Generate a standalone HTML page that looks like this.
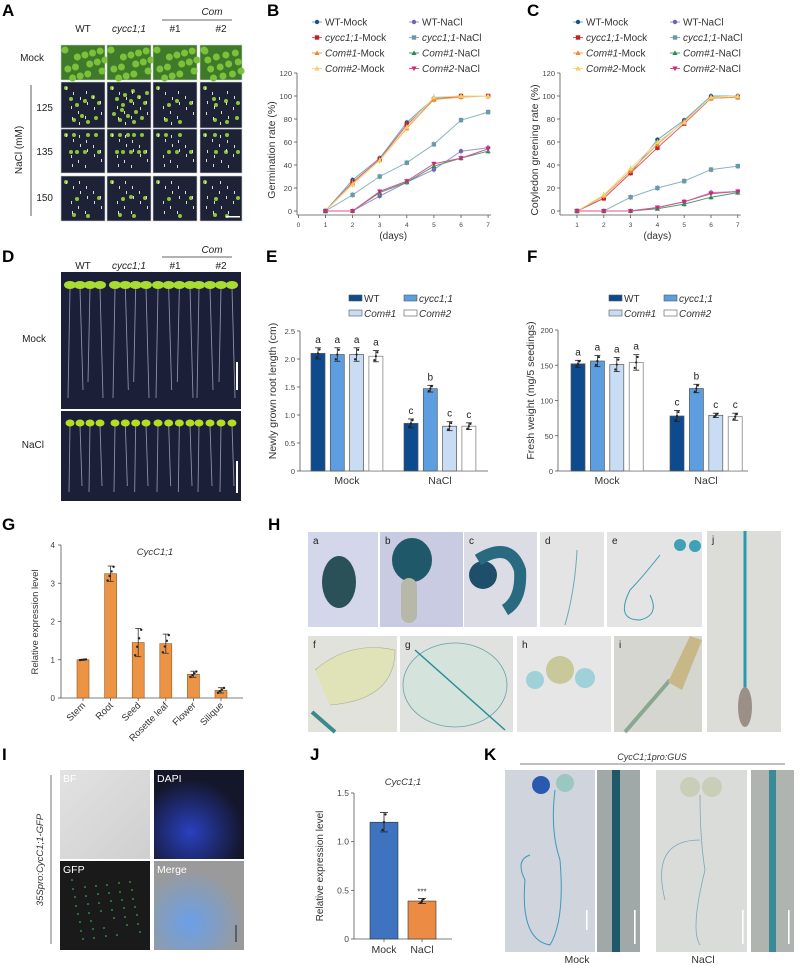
<!DOCTYPE html>
<html><head><meta charset="utf-8">
<style>
html,body{margin:0;padding:0;background:#fff;}
svg{display:block;font-family:"Liberation Sans",Arial,sans-serif;}
.pl{font-weight:bold;font-size:17px;}
.t{font-size:9px;fill:#333;}
.lab{font-size:10px;fill:#222;}
</style></head>
<body>
<svg id="fig" width="800" height="966" viewBox="0 0 800 966" xmlns="http://www.w3.org/2000/svg">
<defs>
<linearGradient id="gH1" x1="0" y1="0" x2="0" y2="1"><stop offset="0" stop-color="#dcdde8"/><stop offset="1" stop-color="#c9cbe0"/></linearGradient>
<linearGradient id="gGrey" x1="0" y1="0" x2="1" y2="1"><stop offset="0" stop-color="#e2e2e2"/><stop offset="1" stop-color="#cfcfcf"/></linearGradient>
<radialGradient id="gDapi" cx="0.4" cy="0.7" r="0.6"><stop offset="0" stop-color="#2a40c0"/><stop offset="1" stop-color="#14162a"/></radialGradient>
<radialGradient id="gMerge" cx="0.4" cy="0.7" r="0.6"><stop offset="0" stop-color="#6aa0e8"/><stop offset="1" stop-color="#9a9a9a"/></radialGradient>
</defs>

<!-- Panel labels -->
<text class="pl" x="2" y="16">A</text>
<text class="pl" x="267" y="16">B</text>
<text class="pl" x="527" y="16">C</text>
<text class="pl" x="2" y="262">D</text>
<text class="pl" x="266" y="262">E</text>
<text class="pl" x="527" y="262">F</text>
<text class="pl" x="2" y="530">G</text>
<text class="pl" x="268" y="530">H</text>
<text class="pl" x="2" y="760">I</text>
<text class="pl" x="310" y="760">J</text>
<text class="pl" x="484" y="760">K</text>

<!-- Panel A -->
<g id="panelA">
<text class="lab" x="212" y="15" text-anchor="middle" font-style="italic">Com</text>
<line x1="162" y1="20" x2="232" y2="20" stroke="#333" stroke-width="0.8"/>
<text class="lab" x="83" y="32" text-anchor="middle">WT</text>
<text class="lab" x="129" y="32" text-anchor="middle" font-style="italic">cycc1;1</text>
<text class="lab" x="175" y="32" text-anchor="middle">#1</text>
<text class="lab" x="221" y="32" text-anchor="middle">#2</text>
<text class="lab" x="44" y="61" text-anchor="end">Mock</text>
<text class="lab" x="53" y="111" text-anchor="end">125</text>
<text class="lab" x="53" y="155" text-anchor="end">135</text>
<text class="lab" x="53" y="201" text-anchor="end">150</text>
<line x1="31" y1="85" x2="31" y2="216" stroke="#333" stroke-width="0.8"/>
<text class="lab" transform="translate(22,150) rotate(-90)" text-anchor="middle">NaCl (mM)</text>
</g>

<!-- Panel D -->
<g>
<text class="lab" x="212" y="253" text-anchor="middle" font-style="italic">Com</text>
<line x1="162" y1="257" x2="232" y2="257" stroke="#333" stroke-width="0.8"/>
<text class="lab" x="83" y="269" text-anchor="middle">WT</text>
<text class="lab" x="129" y="269" text-anchor="middle" font-style="italic">cycc1;1</text>
<text class="lab" x="175" y="269" text-anchor="middle">#1</text>
<text class="lab" x="221" y="269" text-anchor="middle">#2</text>
<text class="lab" x="46" y="342" text-anchor="end">Mock</text>
<text class="lab" x="44" y="448" text-anchor="end">NaCl</text>
<rect x="61" y="272" width="180" height="137" fill="#1b1f38"/>
<rect x="61" y="411" width="180" height="90" fill="#1b1f38"/>
<g id="dSeed"></g>
<rect x="236" y="362" width="2" height="28" fill="#fff"/>
<rect x="236" y="461" width="2" height="32" fill="#fff"/>
</g>

<!-- Panel H -->
<g id="panelH"></g>
<!-- Panel I -->
<g id="panelI"></g>
<!-- Panel K -->
<g id="panelK"></g>

<g id="chartB"></g>
<g id="chartC"></g>
<g id="chartE"></g>
<g id="chartF"></g>
<g id="chartG"></g>
<g id="chartJ"></g>
</svg>

<script>
// ---------- DATA ----------
const lineSeriesNames = ["WT-Mock","cycc1;1-Mock","Com#1-Mock","Com#2-Mock","WT-NaCl","cycc1;1-NaCl","Com#1-NaCl","Com#2-NaCl"];
const lineDays = [1,2,3,4,5,6,7];
const germWTMock   = [0,27,46,77,98,100,100];
const germCyccMock = [0,25,45,75,97,100,100];
const germCom1Mock = [0,24,44,72,97,99,100];
const germCom2Mock = [0,23,44,73,99,100,100];
const germWTNaCl   = [0,0,13,25,36,52,55];
const germCyccNaCl = [0,14,30,42,58,79,86];
const germCom1NaCl = [0,0,16,25,39,46,52];
const germCom2NaCl = [0,0,17,26,41,46,54];
const greenWTMock   = [0,11,33,62,79,100,100];
const greenCyccMock = [0,11,33,55,76,98,99];
const greenCom1Mock = [0,13,35,58,78,98,99];
const greenCom2Mock = [0,14,37,60,77,99,100];
const greenWTNaCl   = [0,0,0,3,8,16,17];
const greenCyccNaCl = [0,0,12,20,26,36,39];
const greenCom1NaCl = [0,0,0,2,6,12,16];
const greenCom2NaCl = [0,0,0,3,8,15,17];
const lineYTicks = [0,20,40,60,80,100,120];
const bXTicks = [0,1,2,3,4,5,6,7];
const cXTicks = [1,2,3,4,5,6,7];

const barGenotypes = ["WT","cycc1;1","Com#1","Com#2"];
const barTreatments = ["Mock","NaCl"];
const rootMock = [2.10,2.08,2.08,2.05];
const rootNaCl = [0.85,1.47,0.80,0.80];
const rootErrMock = [0.10,0.12,0.12,0.10];
const rootErrNaCl = [0.08,0.06,0.08,0.06];
const rootLettersMock = ["a","a","a","a"];
const rootLettersNaCl = ["c","b","c","c"];
const rootTicks = [0,0.5,1.0,1.5,2.0,2.5];
const fwMock = [152,156,151,154];
const fwNaCl = [78,117,79,77];
const fwErrMock = [5,8,10,11];
const fwErrNaCl = [8,6,3,5];
const fwLettersMock = ["a","a","a","a"];
const fwLettersNaCl = ["c","b","c","c"];
const fwTicks = [0,50,100,150,200];

const tissues = ["Stem","Root","Seed","Rosette leaf","Flower","Silique"];
const tissueExpr = [1.0,3.25,1.45,1.42,0.62,0.2];
const tissueErr = [0.01,0.2,0.37,0.25,0.08,0.07];
const tissueTicks = [0,1,2,3,4];

const jConditions = ["Mock","NaCl"];
const jExpr = [1.2,0.39];
const jErr = [0.1,0.025];
const jTicks = [0,0.5,1.0,1.5];
const jTickLabels = ["0","0.5","1.0","1.5"];

// ---------- helpers ----------
const NS="http://www.w3.org/2000/svg";
function mk(parent,tag,attrs,text){const e=document.createElementNS(NS,tag);for(const k in attrs)e.setAttribute(k,attrs[k]);if(text!==undefined)e.textContent=text;parent.appendChild(e);return e;}

// ---------- Line charts ----------
const lineColors=["#6aa8d2","#e06060","#f0a050","#f2dc90","#9a90d0","#8cb4c0","#40a070","#e0508a"];
const markColors=["#1f4f8a","#c81e1e","#f08a28","#f0d060","#7060b8","#6a9aaa","#209050","#d02878"];
const markShapes=["circle","square","tri","tri","circle","square","tri","tridown"];
function marker(g,shape,x,y,c){
  if(shape==="circle")return mk(g,"circle",{cx:x,cy:y,r:2.2,fill:c});
  if(shape==="square")return mk(g,"rect",{x:x-2.2,y:y-2.2,width:4.4,height:4.4,fill:c});
  if(shape==="tri")return mk(g,"polygon",{points:`${x},${y-2.6} ${x-2.6},${y+2} ${x+2.6},${y+2}`,fill:c});
  return mk(g,"polygon",{points:`${x},${y+2.6} ${x-2.6},${y-2} ${x+2.6},${y-2}`,fill:c});
}
function lineChart(id,series,ax){
  const g=document.getElementById(id);
  const yS=v=>ax.y0-(v/120)*(ax.y0-ax.y120);
  const xS=d=>ax.xd1+(d-1)*ax.dx;
  mk(g,"line",{x1:ax.axX,y1:ax.y120,x2:ax.axX,y2:ax.y0+4,stroke:"#555","stroke-width":0.8});
  mk(g,"line",{x1:ax.axX,y1:ax.y0+4,x2:xS(7)+3,y2:ax.y0+4,stroke:"#555","stroke-width":0.8});
  lineYTicks.forEach(t=>{const y=yS(t);mk(g,"line",{x1:ax.axX-3,y1:y,x2:ax.axX,y2:y,stroke:"#555","stroke-width":0.8});
    const tx=mk(g,"text",{x:ax.axX-5,y:y+3,"text-anchor":"end","font-size":"7.5",fill:"#444"},String(t));
    
    });
  ax.xt.forEach(d=>{const x=xS(d);mk(g,"line",{x1:x,y1:ax.y0+4,x2:x,y2:ax.y0+7,stroke:"#555","stroke-width":0.8});
    const tx=mk(g,"text",{x:x,y:ax.y0+16,"text-anchor":"middle","font-size":"6.5",fill:"#444"},String(d));
    
    });
  const xt=mk(g,"text",{x:(xS(ax.xt[0])+xS(7))/2,y:ax.y0+28,"text-anchor":"middle","font-size":"10",fill:"#333"},"(days)");
  
  
  const yt=mk(g,"text",{transform:`translate(${ax.axX-22},${(ax.y0+ax.y120)/2+8}) rotate(-90)`,"text-anchor":"middle","font-size":"10.5",fill:"#333"},ax.title);
  
  
  series.forEach((vals,si)=>{
    let d="";vals.forEach((v,i)=>{d+=(i?"L":"M")+xS(lineDays[i])+","+yS(v);});
    const p=mk(g,"path",{d:d,fill:"none",stroke:lineColors[si],"stroke-width":1});
    
    
    vals.forEach((v,i)=>{const x=xS(lineDays[i]),y=yS(v);
      if(v>5&&i>0){mk(g,"line",{x1:x,y1:y-3,x2:x,y2:y+3,stroke:"#aaa","stroke-width":0.7});}
      const m=marker(g,markShapes[si],x,y,markColors[si]);
      
      });
  });
  // legend
  lineSeriesNames.forEach((n,si)=>{
    const col=si<4?0:1,row=si%4;
    const lx=ax.legX+col*97,ly=22+row*15.5;
    const lg=mk(g,"g",{});
    
    
    mk(lg,"line",{x1:lx,y1:ly,x2:lx+10,y2:ly,stroke:lineColors[si],"stroke-width":1});
    marker(lg,markShapes[si],lx+5,ly,markColors[si]);
    const parts=n.split("-");
    const t=mk(lg,"text",{x:lx+13,y:ly+3.5,"font-size":"10",fill:"#333"});
    const it=(parts[0]==="WT")?"":"italic";
    const a=mk(t,"tspan",{"font-style":it},parts[0]);
    mk(t,"tspan",{},"-"+parts[1]);
  });
}
lineChart("chartB",[germWTMock,germCyccMock,germCom1Mock,germCom2Mock,germWTNaCl,germCyccNaCl,germCom1NaCl,germCom2NaCl],
  {axX:297,y0:211,y120:73,xd1:325.5,dx:27.1,xt:bXTicks,title:"Germination rate (%)",legX:312});
lineChart("chartC",[greenWTMock,greenCyccMock,greenCom1Mock,greenCom2Mock,greenWTNaCl,greenCyccNaCl,greenCom1NaCl,greenCom2NaCl],
  {axX:560,y0:211,y120:73,xd1:577,dx:26.8,xt:cXTicks,title:"Cotyledon greening rate (%)",legX:573});

// ---------- Grouped bar charts ----------
const barFill=["#0d4a8e","#5d9ee0","#c8dcf4","#ffffff"];
function groupBar(id,mock,nacl,em,en,lm,ln,ticks,ax){
  const g=document.getElementById(id);
  const yS=v=>ax.y0-(v/ax.max)*(ax.y0-ax.yTop);
  mk(g,"line",{x1:ax.axX,y1:ax.yTop,x2:ax.axX,y2:ax.y0,stroke:"#555","stroke-width":0.8});
  mk(g,"line",{x1:ax.axX,y1:ax.y0,x2:ax.xEnd,y2:ax.y0,stroke:"#555","stroke-width":0.8});
  ticks.forEach(t=>{const y=yS(t);mk(g,"line",{x1:ax.axX-3,y1:y,x2:ax.axX,y2:y,stroke:"#555","stroke-width":0.8});
    const tx=mk(g,"text",{x:ax.axX-5,y:y+3,"text-anchor":"end","font-size":"7.5",fill:"#444"},ax.fmt(t));
    
    });
  [mock,nacl].forEach((vals,gi)=>{
    const errs=gi?en:em,lets=gi?ln:lm;
    vals.forEach((v,i)=>{
      const cx=ax.gx[gi]+i*ax.step,y=yS(v);
      const r=mk(g,"rect",{x:cx-ax.bw/2,y:y,width:ax.bw,height:ax.y0-y,fill:barFill[i],stroke:i===3?"#777":"#555","stroke-width":0.7});
      
      
      const e=errs[i];
      mk(g,"line",{x1:cx,y1:yS(v+e),x2:cx,y2:yS(v-e),stroke:"#222","stroke-width":0.8});
      mk(g,"line",{x1:cx-3,y1:yS(v+e),x2:cx+3,y2:yS(v+e),stroke:"#222","stroke-width":0.8});
      mk(g,"line",{x1:cx-3,y1:yS(v-e),x2:cx+3,y2:yS(v-e),stroke:"#222","stroke-width":0.8});
      for(let k=0;k<3;k++)mk(g,"circle",{cx:cx+(k-1)*1.5,cy:yS(v+(k-1)*e*0.7),r:1.1,fill:"#222"});
      const lt=mk(g,"text",{x:cx,y:yS(v+e)-5,"text-anchor":"middle","font-size":"10",fill:"#222"},lets[i]);
      
      
    });
    const gl=mk(g,"text",{x:ax.gx[gi]+1.5*ax.step,y:ax.y0+13,"text-anchor":"middle","font-size":"10.5",fill:"#333"},barTreatments[gi]);
    
    
  });
  const yt=mk(g,"text",{transform:`translate(${ax.axX-24},${(ax.y0+ax.yTop)/2-10}) rotate(-90)`,"text-anchor":"middle","font-size":"10.5",fill:"#333"},ax.title);
  
  
  barGenotypes.forEach((n,i)=>{
    const lx=ax.legX+(i%2)*55,ly=ax.legY+Math.floor(i/2)*15;
    const lg=mk(g,"g",{});
    
    
    mk(lg,"rect",{x:lx,y:ly-4,width:13,height:6,fill:barFill[i],stroke:"#555","stroke-width":0.6});
    mk(lg,"text",{x:lx+15,y:ly+3,"font-size":"10",fill:"#333","font-style":i===0?"normal":"italic"},n);
  });
}
groupBar("chartE",rootMock,rootNaCl,rootErrMock,rootErrNaCl,rootLettersMock,rootLettersNaCl,rootTicks,
 {axX:300,y0:471,yTop:331,max:2.5,xEnd:488,gx:[318,411],step:19.3,bw:14,fmt:t=>t===0?"0":t.toFixed(1),title:"Newly grown root length (cm)",legX:349,legY:299});
groupBar("chartF",fwMock,fwNaCl,fwErrMock,fwErrNaCl,fwLettersMock,fwLettersNaCl,fwTicks,
 {axX:558,y0:471,yTop:330,max:200,xEnd:748,gx:[578,677],step:19.4,bw:14,fmt:t=>String(t),title:"Fresh weight (mg/5 seedings)",legX:609,legY:299});

// ---------- Chart G ----------
(function(){
  const g=document.getElementById("chartG");
  const axX=61,y0=698,yTop=545,max=4;
  const yS=v=>y0-(v/max)*(y0-yTop);
  const xS=i=>83+i*27.6;
  mk(g,"line",{x1:axX,y1:yTop,x2:axX,y2:y0,stroke:"#555","stroke-width":0.8});
  mk(g,"line",{x1:axX,y1:y0,x2:243,y2:y0,stroke:"#555","stroke-width":0.8});
  tissueTicks.forEach(t=>{const y=yS(t);mk(g,"line",{x1:axX-3,y1:y,x2:axX,y2:y,stroke:"#555","stroke-width":0.8});
    const tx=mk(g,"text",{x:axX-6,y:y+3,"text-anchor":"end","font-size":"8",fill:"#444"},String(t));
    
    });
  tissueExpr.forEach((v,i)=>{const x=xS(i),y=yS(v);
    const r=mk(g,"rect",{x:x-6,y:y,width:12,height:y0-y,fill:"#ec9443",stroke:"#8a5a2a","stroke-width":0.6});
    
    
    const e=tissueErr[i];
    mk(g,"line",{x1:x,y1:yS(v+e),x2:x,y2:yS(v-e),stroke:"#333","stroke-width":0.8});
    mk(g,"line",{x1:x-3,y1:yS(v+e),x2:x+3,y2:yS(v+e),stroke:"#333","stroke-width":0.8});
    mk(g,"line",{x1:x-3,y1:yS(v-e),x2:x+3,y2:yS(v-e),stroke:"#333","stroke-width":0.8});
    for(let k=0;k<4;k++)mk(g,"circle",{cx:x-3+k*2,cy:yS(v+(k-1.5)*e*0.6),r:1.2,fill:"#222"});
    mk(g,"line",{x1:x,y1:y0,x2:x,y2:y0+3,stroke:"#555","stroke-width":0.8});
    const lt=mk(g,"text",{transform:`translate(${x+3},${y0+8}) rotate(-45)`,"text-anchor":"end","font-size":"9.5",fill:"#333"},tissues[i]);
    
    
  });
  const tt=mk(g,"text",{x:155,y:555,"text-anchor":"middle","font-size":"9.5","font-style":"italic",fill:"#333"},"CycC1;1");
  
  
  const yt=mk(g,"text",{transform:`translate(38,622) rotate(-90)`,"text-anchor":"middle","font-size":"9.5",fill:"#333"},"Relative expression level");
  
  
})();

// ---------- Chart J ----------
(function(){
  const g=document.getElementById("chartJ");
  const axX=354,y0=939,yTop=793,max=1.5;
  const yS=v=>y0-(v/max)*(y0-yTop);
  const xS=i=>384+i*38;
  const fills=["#3d73bf","#ec8c44"];
  mk(g,"line",{x1:axX,y1:yTop,x2:axX,y2:y0,stroke:"#555","stroke-width":0.8});
  mk(g,"line",{x1:axX,y1:y0,x2:452,y2:y0,stroke:"#555","stroke-width":0.8});
  jTicks.forEach((t,i)=>{const y=yS(t);mk(g,"line",{x1:axX-3,y1:y,x2:axX,y2:y,stroke:"#555","stroke-width":0.8});
    const tx=mk(g,"text",{x:axX-5,y:y+3,"text-anchor":"end","font-size":"8.5",fill:"#444"},jTickLabels[i]);
    
    });
  jExpr.forEach((v,i)=>{const x=xS(i),y=yS(v);
    const r=mk(g,"rect",{x:x-14,y:y,width:28,height:y0-y,fill:fills[i],stroke:"#333","stroke-width":0.6});
    
    
    const e=jErr[i];
    mk(g,"line",{x1:x,y1:yS(v+e),x2:x,y2:yS(v-e),stroke:"#222","stroke-width":0.8});
    mk(g,"line",{x1:x-4,y1:yS(v+e),x2:x+4,y2:yS(v+e),stroke:"#222","stroke-width":0.8});
    mk(g,"line",{x1:x-4,y1:yS(v-e),x2:x+4,y2:yS(v-e),stroke:"#222","stroke-width":0.8});
    for(let k=0;k<3;k++)mk(g,"circle",{cx:x-1.5+k*1.5,cy:yS(v+(k-1)*e*0.8),r:1.2,fill:"#222"});
    mk(g,"line",{x1:x,y1:y0,x2:x,y2:y0+3,stroke:"#555","stroke-width":0.8});
    const lt=mk(g,"text",{x:x,y:y0+14,"text-anchor":"middle","font-size":"10.5",fill:"#333"},jConditions[i]);
    
    
  });
  mk(g,"text",{x:xS(1),y:yS(jExpr[1]+jErr[1])-4,"text-anchor":"middle","font-size":"8",fill:"#333"},"***");
  const tt=mk(g,"text",{x:403,y:785,"text-anchor":"middle","font-size":"9.5","font-style":"italic",fill:"#333"},"CycC1;1");
  
  
  const yt=mk(g,"text",{transform:`translate(323,866) rotate(-90)`,"text-anchor":"middle","font-size":"10",fill:"#333"},"Relative expression level");
  
  
})();

// ---------- Photo panels (decorative) ----------
(function(){
  const a=document.getElementById("panelA");
  const cols=[61,107,153,200],rows=[[45,35],[82,46],[129,44],[176,45]];
  rows.forEach((r,ri)=>cols.forEach((c,ci)=>{
    const w=ci===3?42:44;
    const rc=mk(a,"rect",{x:c,y:r[0],width:w,height:r[1],fill:ri===0?"#3f7a2a":"#1d2236",stroke:"#ccc","stroke-width":0.6});
    
    
    if(ri===0){for(let k=0;k<14;k++)mk(a,"circle",{cx:c+4+(k*13)%w*0.95,cy:r[0]+5+(k*7)%30,r:3.5,fill:"#7cc13a"});}
    else{const dens=[[10,16,6,8],[8,10,6,6],[5,6,4,5]][ri-1][ci];
      for(let k=0;k<dens;k++)mk(a,"circle",{cx:c+5+(k*11)%(w-8),cy:r[0]+6+((k*17)%(r[1]-10)),r:2,fill:"#8fc43a"});
      for(let k=0;k<14;k++)mk(a,"rect",{x:c+5+(k*7)%(w-8),y:r[0]+5+((k*5)%(r[1]-10)),width:1,height:3,fill:"#d8e0c8"});}
  }));
  mk(a,"rect",{x:226,y:216,width:14,height:1.5,fill:"#fff"});

  const d=document.getElementById("dSeed");
  [[70,100],[115,146],[158,190],[199,232]].forEach(([x1,x2])=>{
    for(let k=0;k<4;k++){const x=x1+k*(x2-x1)/3;
      mk(d,"line",{x1:x,y1:288,x2:x+(k%2?3:-2),y2:398-(k%3)*8,stroke:"#8a90a8","stroke-width":0.9});
      mk(d,"ellipse",{cx:x,cy:285,rx:6,ry:4,fill:"#a8dc30"});
      mk(d,"line",{x1:x,y1:425,x2:x+(k%2?2:-1),y2:492-(k%2)*6,stroke:"#8a90a8","stroke-width":0.9});
      mk(d,"ellipse",{cx:x,cy:423,rx:4.5,ry:3.5,fill:"#b8dc20"});}
  });

  const h=document.getElementById("panelH");
  const hp=[["a",308,532,70,95,"#d4d6ea"],["b",380,532,83,95,"#c9cbe3"],["c",464,532,73,95,"#dcdce4"],["d",540,532,64,95,"#e4e4e4"],["e",607,532,95,95,"#e4e4e4"],
    ["f",308,636,89,96,"#e2e2dc"],["g",400,636,113,96,"#e0e2e0"],["h",517,636,94,96,"#e6e6e6"],["i",614,636,88,96,"#d6d6d0"],["j",707,531,74,201,"#dcdcd8"]];
  hp.forEach(p=>{const r=mk(h,"rect",{x:p[1],y:p[2],width:p[3],height:p[4],fill:p[5]});
    
    
    mk(h,"text",{x:p[1]+5,y:p[2]+12,"font-size":"10",fill:"#222"},p[0]);});
  mk(h,"ellipse",{cx:339,cy:582,rx:17,ry:26,fill:"#2a5058"});
  mk(h,"ellipse",{cx:412,cy:560,rx:20,ry:22,fill:"#1f5868"});
  mk(h,"rect",{x:401,y:578,width:16,height:45,rx:8,fill:"#b8b8a8"});
  mk(h,"ellipse",{cx:483,cy:575,rx:14,ry:14,fill:"#1f4e6a"});
  mk(h,"path",{d:"M478 560 Q510 540 520 570 Q522 600 505 610",stroke:"#2a6a80","stroke-width":12,fill:"none"});
  mk(h,"path",{d:"M577 550 Q575 590 565 625",stroke:"#6aaab8","stroke-width":1,fill:"none"});
  mk(h,"path",{d:"M660 555 Q640 580 630 590 Q615 620 640 620 Q660 615 650 595",stroke:"#3a9ab0","stroke-width":1,fill:"none"});
  mk(h,"circle",{cx:680,cy:545,r:6,fill:"#40a0b8"});mk(h,"circle",{cx:695,cy:546,r:6,fill:"#40a0b8"});
  mk(h,"path",{d:"M315 670 Q350 640 395 650 Q395 700 330 705",fill:"#e0e2b8",stroke:"#a8b090","stroke-width":0.6});
  mk(h,"line",{x1:312,y1:712,x2:335,y2:732,stroke:"#3a8a8a","stroke-width":4});
  mk(h,"ellipse",{cx:455,cy:685,rx:52,ry:42,fill:"#d4e4dc",stroke:"#6aa0a8","stroke-width":0.8});
  mk(h,"line",{x1:415,y1:650,x2:505,y2:730,stroke:"#2a8a98","stroke-width":1.5});
  mk(h,"circle",{cx:560,cy:670,r:14,fill:"#c8c89a"});mk(h,"circle",{cx:585,cy:678,r:10,fill:"#a0d0d8"});mk(h,"circle",{cx:535,cy:680,r:9,fill:"#a0d0d8"});
  mk(h,"line",{x1:625,y1:732,x2:670,y2:680,stroke:"#8aa890","stroke-width":4});
  mk(h,"path",{d:"M668 682 L690 636 L702 640 L682 690 Z",fill:"#c8b888"});
  mk(h,"line",{x1:745,y1:531,x2:745,y2:700,stroke:"#2a9ab0","stroke-width":3});
  mk(h,"ellipse",{cx:745,cy:707,rx:7,ry:20,fill:"#9a9088"});

  const I=document.getElementById("panelI");
  const ip=[["BF",60,770,"url(#gGrey)","#fff"],["DAPI",154,770,"url(#gDapi)","#fff"],["GFP",60,861,"#1a1a1a","#fff"],["Merge",154,861,"url(#gMerge)","#fff"]];
  ip.forEach(p=>{const r=mk(I,"rect",{x:p[1],y:p[2],width:90,height:89,fill:p[3]});
    
    
    mk(I,"text",{x:p[1]+3,y:p[2]+12,"font-size":"10.5",fill:"#fff"},p[0]);});
  for(let k=0;k<40;k++)mk(I,"circle",{cx:72+(k*13)%70,cy:880+(k*7)%60,r:0.8,fill:"#40d060"});
  mk(I,"line",{x1:51,y1:775,x2:51,y2:944,stroke:"#555","stroke-width":0.8});
  mk(I,"text",{transform:"translate(43,860) rotate(-90)","text-anchor":"middle","font-size":"9.5","font-style":"italic",fill:"#333"},"35Spro:CycC1;1-GFP");
  mk(I,"line",{x1:236,y1:925,x2:236,y2:942,stroke:"#222","stroke-width":1});

  const K=document.getElementById("panelK");
  mk(K,"text",{x:652,y:760,"text-anchor":"middle","font-size":"9","font-style":"italic",fill:"#333"},"CycC1;1pro:GUS");
  mk(K,"line",{x1:520,y1:764,x2:785,y2:764,stroke:"#555","stroke-width":0.8});
  [[505,595,"#d0d4dc"],[597,640,"#a0a8a8"],[656,747,"#dadcda"],[751,794,"#b0b4b0"]].forEach((p,i)=>{
    const r=mk(K,"rect",{x:p[0],y:770,width:p[1]-p[0],height:182,fill:p[2]});
    
    });
  mk(K,"rect",{x:612,y:770,width:8,height:182,fill:"#1f5866"});
  mk(K,"rect",{x:769,y:770,width:7,height:182,fill:"#3a8a98"});
  mk(K,"circle",{cx:541,cy:785,r:9,fill:"#2a5ab0"});mk(K,"circle",{cx:565,cy:783,r:9,fill:"#9ac8c0"});
  mk(K,"path",{d:"M555 790 Q550 830 560 860 Q565 920 550 945 Q520 940 525 880 Q515 860 530 855",stroke:"#3a9ac0","stroke-width":1,fill:"none"});
  mk(K,"circle",{cx:690,cy:787,r:10,fill:"#c8ceb8"});mk(K,"circle",{cx:712,cy:787,r:10,fill:"#c8ceb8"});
  mk(K,"path",{d:"M700 795 Q700 840 705 870 Q690 930 700 945 M700 840 Q650 840 665 900",stroke:"#7aa8b8","stroke-width":0.8,fill:"none"});
  [[586,910,930],[634,910,944],[742,910,944],[788,910,944]].forEach(s=>mk(K,"rect",{x:s[0],y:s[1],width:1.6,height:s[2]-s[1],fill:"#fff"}));
  mk(K,"text",{x:577,y:963,"text-anchor":"middle","font-size":"10.5",fill:"#333"},"Mock");
  mk(K,"text",{x:703,y:963,"text-anchor":"middle","font-size":"10.5",fill:"#333"},"NaCl");
})();
</script>
</body></html>
